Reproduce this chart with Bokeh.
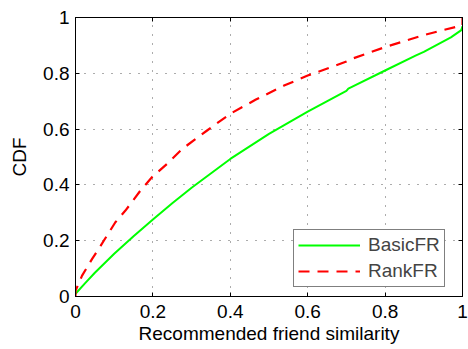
from bokeh.plotting import figure
from bokeh.models import Range1d, LinearAxis, FixedTicker, Legend, LegendItem, CustomLabelingPolicy
from bokeh.embed import file_html
from bokeh.resources import INLINE

# Data
basic_x = [0.0, 0.025, 0.05, 0.1, 0.15, 0.2, 0.25, 0.3, 0.4, 0.5, 0.6, 0.7, 0.705, 0.8, 0.88, 0.9, 0.97, 0.997, 1.0]
basic_y = [0.01, 0.048, 0.085, 0.153, 0.216, 0.276, 0.334, 0.39, 0.493, 0.583, 0.663, 0.737, 0.745, 0.81, 0.864, 0.877, 0.929, 0.955, 0.968]

rank_x = [0.0, 0.0, 0.017, 0.043, 0.06, 0.103, 0.129, 0.168, 0.198, 0.237, 0.276, 0.34, 0.4, 0.465, 0.539, 0.6, 0.7, 0.71, 0.8, 0.9, 0.95, 1.0, 1.0]
rank_y = [0.0, 0.02, 0.075, 0.135, 0.171, 0.266, 0.308, 0.38, 0.428, 0.476, 0.529, 0.595, 0.655, 0.705, 0.756, 0.792, 0.842, 0.85, 0.894, 0.937, 0.955, 0.972, 1.0]

ticks = [0, 0.2, 0.4, 0.6, 0.8, 1]
tick_labels = {0: "0", 0.2: "0.2", 0.4: "0.4", 0.6: "0.6", 0.8: "0.8", 1: "1"}

FONT = "Liberation Sans"
FS = "19px"

p = figure(width=468, height=349, output_backend="svg", toolbar_location=None,
           x_range=Range1d(0, 1), y_range=Range1d(0, 1),
           min_border_left=75, min_border_right=6, min_border_top=17, min_border_bottom=53,
           background_fill_color="white", border_fill_color="white")
p.outline_line_color = "black"
p.outline_line_width = 1

for ax in (p.xaxis[0], p.yaxis[0]):
    ax.ticker = FixedTicker(ticks=ticks)
    ax.major_label_overrides = tick_labels
    ax.major_tick_in = 4
    ax.major_tick_out = 0
    ax.minor_tick_line_color = None
    ax.axis_line_color = "black"
    ax.major_tick_line_color = "black"
    ax.major_label_text_font = FONT
    ax.major_label_text_font_size = FS
    ax.major_label_text_color = "black"
    ax.axis_label_text_font = FONT
    ax.axis_label_text_font_size = FS
    ax.axis_label_text_font_style = "normal"
    ax.axis_label_text_color = "black"

p.xaxis.axis_label = "Recommended friend similarity"
p.yaxis.axis_label = "CDF"
p.xaxis.major_label_standoff = 8
p.xaxis.axis_label_standoff = 2
p.yaxis.major_label_standoff = 6
p.yaxis.axis_label_standoff = 10

no_labels = CustomLabelingPolicy(code="""
const n = indices.size;
for (let i = 0; i < n; i++) { indices.unset(i); }
return indices;
""")

for loc in ("above", "right"):
    ax = LinearAxis(ticker=FixedTicker(ticks=ticks), major_tick_in=4, major_tick_out=0,
                    minor_tick_line_color=None, axis_line_color="black",
                    major_label_policy=no_labels,
                    major_label_text_font_size="1px", major_label_standoff=0)
    p.add_layout(ax, loc)

for g in (p.xgrid[0], p.ygrid[0]):
    g.ticker = FixedTicker(ticks=[0.2, 0.4, 0.6, 0.8])
    g.grid_line_color = "black"
    g.grid_line_alpha = 0.65
    g.grid_line_dash = "1 8"
    g.grid_line_width = 1

r_basic = p.line(basic_x, basic_y, line_color="#00ff00", line_width=2)
r_rank = p.line(rank_x, rank_y, line_color="#ff0000", line_width=2.2, line_dash="11 8")

legend = Legend(items=[LegendItem(label="BasicFR", renderers=[r_basic]),
                       LegendItem(label="RankFR", renderers=[r_rank])],
                location=(218, 9), orientation="vertical",
                label_text_font=FONT, label_text_font_size=FS,
                glyph_width=62, glyph_height=20, label_height=20,
                label_standoff=8, padding=4, spacing=4, margin=0,
                border_line_color="black", border_line_width=1,
                background_fill_color="white", background_fill_alpha=1)
p.add_layout(legend, "center")

open("out.html", "w").write(file_html(p, INLINE))
